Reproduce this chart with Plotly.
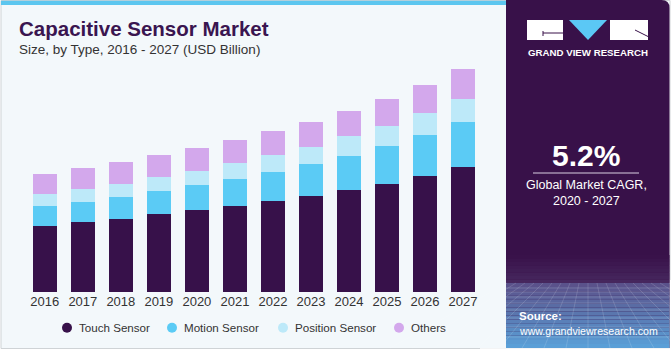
import plotly.graph_objects as go

W, H = 671, 350

years = ["2016", "2017", "2018", "2019", "2020", "2021", "2022", "2023", "2024", "2025", "2026", "2027"]
touch = [12.88, 13.66, 14.24, 15.22, 15.93, 16.71, 17.68, 18.66, 19.88, 20.99, 22.66, 24.41]
motion = [3.89, 3.89, 4.33, 4.47, 4.92, 5.31, 5.64, 6.28, 6.61, 7.44, 7.91, 8.69]
position = [2.27, 2.53, 2.53, 2.72, 2.72, 3.11, 3.36, 3.30, 3.83, 3.89, 4.28, 4.47]
others = [4.00, 4.14, 4.22, 4.22, 4.53, 4.41, 4.66, 4.86, 4.86, 5.25, 5.44, 5.77]

series_names = ["Touch Sensor", "Motion Sensor", "Position Sensor", "Others"]
series_values = [touch, motion, position, others]
colors = ["#37114a", "#5bcbf5", "#bde9f9", "#d3a8ec"]

label_year = "2020"
label_text = "$28.1B"

FONT = "Liberation Sans, Arial, sans-serif"


def xp(px):
    return px / W


def yp(py):
    return 1 - py / H


fig = go.Figure()
for name, vals, col in zip(series_names, series_values, colors):
    fig.add_trace(go.Bar(
        x=years, y=vals, name=name, marker_color=col,
        marker_line_width=0, showlegend=False, hoverinfo="skip"))

idx = years.index(label_year)
total = sum(v[idx] for v in series_values)

shapes = []
# card
shapes.append(dict(type="rect", xref="paper", yref="paper", x0=xp(1), x1=xp(670), y0=yp(348.5), y1=yp(0.5),
                   fillcolor="#f3f8fb", line=dict(color="#cfd3d6", width=1), layer="below"))
# top blue bar
shapes.append(dict(type="rect", xref="paper", yref="paper", x0=xp(1), x1=xp(507), y0=yp(5), y1=yp(0.8),
                   fillcolor="#5cc6ef", line=dict(width=0), layer="below"))
# right panel with rounded top-right corner
x0, x1, y0, y1 = xp(506), xp(669.5), yp(348), yp(0)
rx, ry = 8 / W, 8 / H
path = (f"M {x0},{y0} L {x0},{y1} L {x1 - rx},{y1} Q {x1},{y1} {x1},{y1 - ry} "
        f"L {x1},{y0} Z")
shapes.append(dict(type="path", xref="paper", yref="paper", path=path,
                   fillcolor="#381149", line=dict(width=0), layer="below"))


def lerp_col(c1, c2, t):
    a = [int(c1[i:i + 2], 16) for i in (1, 3, 5)]
    b = [int(c2[i:i + 2], 16) for i in (1, 3, 5)]
    return "#" + "".join(f"{int(round(a[k] + (b[k] - a[k]) * t)):02x}" for k in range(3))


# soft fade above gradient
n1 = 8
for i in range(n1):
    t0 = 255 + i * (283 - 255) / n1
    t1 = 255 + (i + 1) * (283 - 255) / n1
    shapes.append(dict(type="rect", xref="paper", yref="paper", x0=xp(506), x1=xp(669.5), y0=yp(t1), y1=yp(t0),
                       fillcolor=lerp_col("#381149", "#47285f", (i + 0.5) / n1), line=dict(width=0), layer="below"))
# bottom gradient
n2 = 16
for i in range(n2):
    t0 = 283 + i * (348 - 283) / n2
    t1 = 283 + (i + 1) * (348 - 283) / n2
    shapes.append(dict(type="rect", xref="paper", yref="paper", x0=xp(506), x1=xp(669.5), y0=yp(t1), y1=yp(t0),
                       fillcolor=lerp_col("#5a4f88", "#5aa2da", (i + 0.5) / n2), line=dict(width=0), layer="below"))
# grid texture
for gy in [288, 292, 297, 303, 310, 318, 327, 337]:
    shapes.append(dict(type="line", xref="paper", yref="paper", x0=xp(506), x1=xp(669.5), y0=yp(gy), y1=yp(gy),
                       line=dict(color="rgba(255,255,255,0.16)", width=1), layer="below"))
cx = 588
for k in range(-9, 10):
    shapes.append(dict(type="line", xref="paper", yref="paper", x0=xp(cx + k * 9), x1=xp(cx + k * 22),
                       y0=yp(283), y1=yp(348), line=dict(color="rgba(255,255,255,0.14)", width=1), layer="below"))
# cover overflow of fan lines
shapes.append(dict(type="rect", xref="paper", yref="paper", x0=xp(490), x1=xp(505.5), y0=yp(348), y1=yp(280),
                   fillcolor="#f3f8fb", line=dict(width=0), layer="below"))
shapes.append(dict(type="rect", xref="paper", yref="paper", x0=xp(670), x1=xp(700), y0=yp(350), y1=yp(280),
                   fillcolor="#ffffff", line=dict(width=0), layer="below"))
shapes.append(dict(type="rect", xref="paper", yref="paper", x0=xp(480), x1=xp(700), y0=yp(360), y1=yp(348.2),
                   fillcolor="#ffffff", line=dict(width=0), layer="below"))

# logo
shapes.append(dict(type="rect", xref="paper", yref="paper", x0=xp(527), x1=xp(563), y0=yp(40), y1=yp(20),
                   fillcolor="#ffffff", line=dict(width=0)))
shapes.append(dict(type="path", xref="paper", yref="paper",
                   path=f"M {xp(569)},{yp(20)} L {xp(607)},{yp(20)} L {xp(588)},{yp(40)} Z",
                   fillcolor="#5bc8f5", line=dict(width=0)))
shapes.append(dict(type="rect", xref="paper", yref="paper", x0=xp(610), x1=xp(648), y0=yp(40), y1=yp(20),
                   fillcolor="#ffffff", line=dict(width=0)))
shapes.append(dict(type="line", xref="paper", yref="paper", x0=xp(543), x1=xp(563), y0=yp(33), y1=yp(33),
                   line=dict(color="#381149", width=1)))
shapes.append(dict(type="line", xref="paper", yref="paper", x0=xp(543), x1=xp(543), y0=yp(31), y1=yp(36),
                   line=dict(color="#381149", width=1)))
shapes.append(dict(type="line", xref="paper", yref="paper", x0=xp(635), x1=xp(648), y0=yp(30), y1=yp(36.5),
                   line=dict(color="#381149", width=1)))
# CAGR divider
shapes.append(dict(type="line", xref="paper", yref="paper", x0=xp(533), x1=xp(639), y0=yp(173), y1=yp(173),
                   line=dict(color="#d9cfe2", width=1)))

annotations = []
annotations.append(dict(xref="paper", yref="paper", x=xp(17), y=yp(29), xanchor="left", yanchor="middle",
                        text="<b>Capacitive Sensor Market</b>", showarrow=False,
                        font=dict(family=FONT, size=20.5, color="#3a1550")))
annotations.append(dict(xref="paper", yref="paper", x=xp(16.5), y=yp(49.5), xanchor="left", yanchor="middle",
                        text="Size, by Type, 2016 - 2027 (USD Billion)", showarrow=False,
                        font=dict(family=FONT, size=13.5, color="#333333")))
annotations.append(dict(x=label_year, y=total, xref="x", yref="y", yanchor="bottom", yshift=9,
                        text=label_text, showarrow=False, font=dict(family=FONT, size=13, color="#333333")))

# legend
leg_mx = [67, 172, 283, 399]
for name, col, mx in zip(series_names, colors, leg_mx):
    shapes.append(dict(type="circle", xref="paper", yref="paper", x0=xp(mx - 5), x1=xp(mx + 5),
                       y0=yp(327.7 + 5), y1=yp(327.7 - 5), fillcolor=col, line=dict(width=0)))
    annotations.append(dict(xref="paper", yref="paper", x=xp(mx + 10), y=yp(327.7), xanchor="left",
                            yanchor="middle", text=name, showarrow=False,
                            font=dict(family=FONT, size=11.6, color="#333333")))

# right panel texts
annotations.append(dict(xref="paper", yref="paper", x=xp(587.5), y=yp(52), xanchor="center", yanchor="middle",
                        text="<b>GRAND VIEW RESEARCH</b>", showarrow=False,
                        font=dict(family=FONT, size=9.7, color="#ffffff")))
annotations.append(dict(xref="paper", yref="paper", x=xp(586), y=yp(155), xanchor="center", yanchor="middle",
                        text="<b>5.2%</b>", showarrow=False,
                        font=dict(family=FONT, size=30, color="#ffffff")))
annotations.append(dict(xref="paper", yref="paper", x=xp(586), y=yp(185), xanchor="center", yanchor="middle",
                        text="Global Market CAGR,", showarrow=False,
                        font=dict(family=FONT, size=12.5, color="#ffffff")))
annotations.append(dict(xref="paper", yref="paper", x=xp(586), y=yp(200.7), xanchor="center", yanchor="middle",
                        text="2020 - 2027", showarrow=False,
                        font=dict(family=FONT, size=12.5, color="#ffffff")))
annotations.append(dict(xref="paper", yref="paper", x=xp(517), y=yp(316), xanchor="left", yanchor="middle",
                        text="<b>Source:</b>", showarrow=False,
                        font=dict(family=FONT, size=11.5, color="#ffffff")))
annotations.append(dict(xref="paper", yref="paper", x=xp(517), y=yp(330.5), xanchor="left", yanchor="middle",
                        text="www.grandviewresearch.com", showarrow=False,
                        font=dict(family=FONT, size=10.6, color="#ffffff")))

px_per_unit = 5.146
plot_bottom, plot_top = 292.3, 60
fig.update_layout(
    width=W, height=H, margin=dict(l=0, r=0, t=0, b=0),
    paper_bgcolor="#ffffff", plot_bgcolor="rgba(0,0,0,0)",
    barmode="stack", bargap=0.37,
    xaxis=dict(type="category", domain=[xp(25.8), xp(482)], range=[-0.5, 11.5],
               showgrid=False, showline=False, zeroline=False, ticks="",
               tickfont=dict(family=FONT, size=13, color="#333333"), fixedrange=True),
    yaxis=dict(domain=[yp(plot_bottom), yp(plot_top)], range=[0, (plot_bottom - plot_top) / px_per_unit],
               visible=False, fixedrange=True),
    shapes=shapes, annotations=annotations, showlegend=False,
)

fig.write_html("out.html", config={"displayModeBar": False})
